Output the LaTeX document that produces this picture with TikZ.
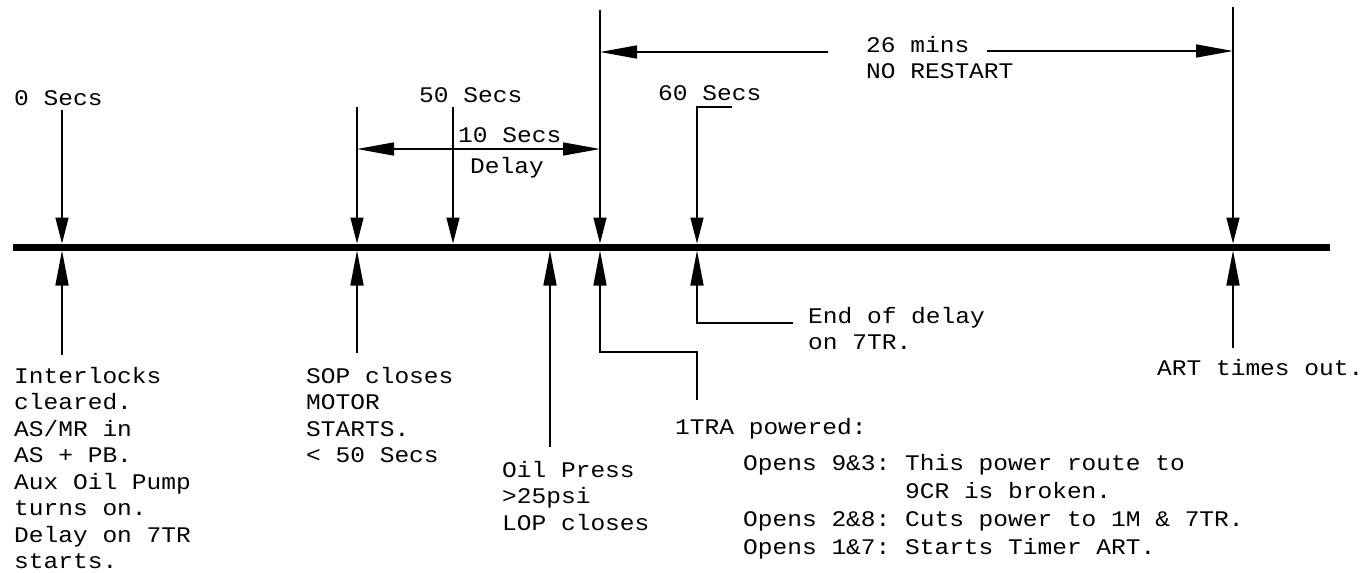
\documentclass[tikz,border=0pt]{standalone}
\usepackage{fontspec}
\newfontfamily\cadfont[FakeStretch=1.1]{Liberation Mono}
\usetikzlibrary{arrows.meta}
\newcommand\cadlines[1]{\begin{tabular}[t]{@{}l@{}}#1\end{tabular}}
\begin{document}
\begin{tikzpicture}[x=1pt,y=-1pt,
  thinln/.style={line width=1.5pt, draw=black},
  dnarrow/.style={thinln, -{Triangle[length=26pt,width=13pt]}},
  uparrow/.style={thinln, -{Triangle[length=35pt,width=13pt]}},
  harrow/.style={thinln, -{Triangle[length=37pt,width=13pt]}},
  lbl/.style={anchor=base west, inner sep=0pt, text=black,
    font=\cadfont\fontsize{22.3}{26.5}\selectfont},
]
\fill[white] (0,0) rectangle (1366,573);
\useasboundingbox (0,0) rectangle (1366,573);

% timeline
\coordinate (tlL) at (13,247);
\coordinate (tlR) at (1330,247);
\draw[line width=7pt] (tlL) -- (tlR);

% event coordinates
\coordinate (A0) at (62,110);   \coordinate (Atop) at (62,243.5);  \coordinate (Abot) at (62,250.5);  \coordinate (A1) at (62,355);
\coordinate (B0) at (357,107);  \coordinate (Btop) at (357,243.5); \coordinate (Bbot) at (357,250.5); \coordinate (B1) at (357,353);
\coordinate (C0) at (453,107);  \coordinate (Ctop) at (453,243.5);
\coordinate (Dbot) at (550,250.5); \coordinate (D1) at (550,447);
\coordinate (E0) at (600,10);   \coordinate (Etop) at (600,243.5); \coordinate (Ebot) at (600,250.5);
\coordinate (E1) at (600,352);  \coordinate (E2) at (697,352);    \coordinate (E3) at (697,400);
\coordinate (F0) at (732,107);  \coordinate (F0c) at (697,107);   \coordinate (Ftop) at (697,243.5);
\coordinate (Fbot) at (697,250.5); \coordinate (F1) at (697,323); \coordinate (F2) at (793,323);
\coordinate (G0) at (1233,7);   \coordinate (Gtop) at (1233,243.5); \coordinate (Gbot) at (1233,250.5); \coordinate (G1) at (1233,348);

% dimension coordinates
\coordinate (dL) at (357,149);  \coordinate (dR) at (600,149);
\coordinate (tL) at (600,52);   \coordinate (tLe) at (828,52);
\coordinate (tRs) at (987,51);  \coordinate (tR) at (1233,51);

% arrows onto the timeline
\draw[dnarrow] (A0) -- (Atop);
\draw[uparrow] (A1) -- (Abot);
\draw[dnarrow] (B0) -- (Btop);
\draw[uparrow] (B1) -- (Bbot);
\draw[dnarrow] (C0) -- (Ctop);
\draw[uparrow] (D1) -- (Dbot);
\draw[dnarrow] (E0) -- (Etop);
\draw[uparrow] (E3) -- (E2) -- (E1) -- (Ebot);
\draw[dnarrow] (F0) -- (F0c) -- (Ftop);
\draw[uparrow] (F2) -- (F1) -- (Fbot);
\draw[dnarrow] (G0) -- (Gtop);
\draw[uparrow] (G1) -- (Gbot);

% dimension arrows
\draw[thinln, {Triangle[length=37pt,width=13pt]}-{Triangle[length=37pt,width=13pt]}] (dL) -- (dR);
\draw[harrow] (tLe) -- (tL);
\draw[harrow] (tRs) -- (tR);

% labels
\node[lbl] (s0)  at (14,105)  {0 Secs};
\node[lbl] (s50) at (419,102) {50 Secs};
\node[lbl] (s10) at (458,142) {10 Secs};
\node[lbl] (dly) at (470,173) {Delay};
\node[lbl] (s60) at (658,100) {60 Secs};
\node[lbl] (m26) at (866,52)  {\cadlines{26 mins\\NO RESTART}};

\node[lbl] (ilk) at (14,383)  {\cadlines{Interlocks\\cleared.\\AS/MR in\\AS + PB.\\Aux Oil Pump\\turns on.\\Delay on 7TR\\starts.}};
\node[lbl] (sop) at (306,383) {\cadlines{SOP closes\\MOTOR\\STARTS.\\< 50 Secs}};
\node[lbl] (oil) at (502,477) {\cadlines{Oil Press\\>25psi\\LOP closes}};
\node[lbl] (tra) at (675,434) {1TRA powered:};
\node[lbl, font=\cadfont\fontsize{22.3}{28}\selectfont] (opn) at (743,470)
  {\begin{tabular}[t]{@{}l@{\ }l@{}}Opens 9\&3: & This power route to\\ & 9CR is broken.\\Opens 2\&8: & Cuts power to 1M \& 7TR.\\Opens 1\&7: & Starts Timer ART.\end{tabular}};
\node[lbl] (eod) at (808,323) {\cadlines{End of delay\\on 7TR.}};
\node[lbl] (art) at (1157,375) {ART times out.};
\end{tikzpicture}
\end{document}
